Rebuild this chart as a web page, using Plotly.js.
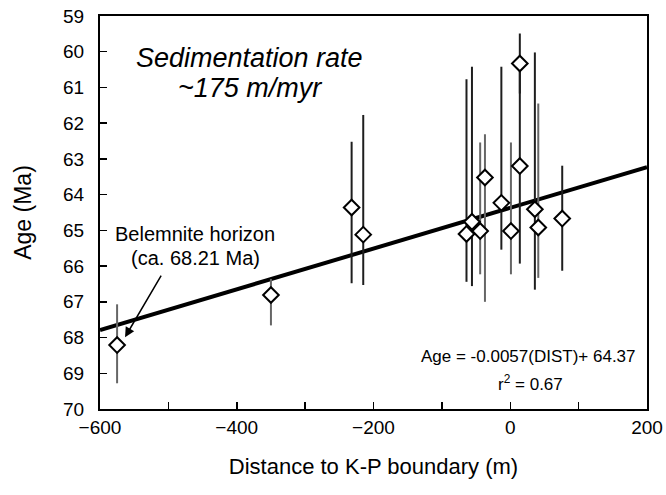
<!DOCTYPE html>
<html>
<head>
<meta charset="utf-8">
<script src="https://cdn.plot.ly/plotly-3.0.1.min.js"></script>
<style>
  html, body { margin: 0; padding: 0; background: #fff; }
  #chart { width: 666px; height: 495px; }
</style>
</head>
<body>
<div id="chart"></div>
<script>
// Distance to K-P boundary (m)
var dist   = [-575, -350, -232, -215, -64, -56, -44, -37, -13, 1, 14, 14, 36, 41, 76];
// Age (Ma)
var age    = [68.21, 66.81, 64.36, 65.12, 65.10, 64.76, 65.02, 63.52, 64.23, 65.02, 60.33, 63.20, 64.41, 64.92, 64.67];
// Error bar extents (younger end, older end)
var ageMin = [67.07, 66.36, 62.52, 61.77, 60.77, 60.42, 62.54, 62.31, 60.42, 62.54, 59.49, 60.47, 60.02, 61.45, 63.19];
var ageMax = [69.28, 67.66, 66.48, 66.53, 66.44, 66.56, 66.23, 67.00, 65.54, 66.23, 61.17, 65.93, 66.66, 66.33, 66.13];
// Bars drawn in grey in the reference
var greyBar = [1, 1, 0, 0, 0, 0, 1, 1, 0, 1, 0, 0, 0, 1, 0];
// Regression line end points
var fitX = [-600, 200];
var fitY = [67.79, 63.23];
// Ticks
var xTickVals = [-600, -400, -200, 0, 200];
var xMinorVals = [-500, -300, -100, 100];
var yTickVals = [59, 60, 61, 62, 63, 64, 65, 66, 67, 68, 69, 70];

var FONT = 'Liberation Sans, Arial, Helvetica, sans-serif';

function pick(arr, flag) {
  var out = [];
  for (var i = 0; i < arr.length; i++) if (greyBar[i] === flag) out.push(arr[i]);
  return out;
}
function errTrace(flag, color) {
  var a = pick(age, flag), lo = pick(ageMin, flag), hi = pick(ageMax, flag);
  var plus = [], minus = [];
  for (var i = 0; i < a.length; i++) { plus.push(hi[i] - a[i]); minus.push(a[i] - lo[i]); }
  return {
    x: pick(dist, flag), y: a, type: 'scatter', mode: 'markers',
    marker: {size: 1, color: 'rgba(0,0,0,0)'},
    error_y: {type: 'data', symmetric: false, array: plus, arrayminus: minus,
              color: color, thickness: 2, width: 0},
    hoverinfo: 'skip', showlegend: false
  };
}

var traces = [
  {x: fitX, y: fitY, type: 'scatter', mode: 'lines',
   line: {color: '#000', width: 4}, showlegend: false, hoverinfo: 'skip'},
  errTrace(0, '#1e1e1e'),
  errTrace(1, '#666666'),
  {x: dist, y: age, type: 'scatter', mode: 'markers',
   marker: {symbol: 'diamond', size: 12, color: '#fff', line: {color: '#000', width: 2}},
   showlegend: false}
];

var layout = {
  width: 666, height: 495,
  margin: {l: 100, r: 19, t: 16, b: 86},
  paper_bgcolor: '#fff', plot_bgcolor: '#fff',
  font: {family: FONT, color: '#000'},
  showlegend: false,
  xaxis: {
    range: [-600, 200], tickvals: xTickVals,
    ticks: 'inside', ticklen: 7, tickwidth: 1.5, tickcolor: '#000',
    minor: {tickvals: xMinorVals, ticks: 'inside', ticklen: 7, tickwidth: 1.5, tickcolor: '#000', showgrid: false},
    showline: true, linecolor: '#000', linewidth: 2, mirror: true,
    showgrid: false, zeroline: false,
    tickfont: {size: 19, family: FONT},
    title: {text: 'Distance to K-P boundary (m)', font: {size: 22, family: FONT}, standoff: 22}
  },
  yaxis: {
    range: [70, 59], tickvals: yTickVals,
    ticks: 'inside', ticklen: 7, tickwidth: 1.5, tickcolor: '#000',
    showline: true, linecolor: '#000', linewidth: 2, mirror: true,
    showgrid: false, zeroline: false,
    tickfont: {size: 19, family: FONT},
    ticklabelstandoff: 10,
    title: {text: 'Age (Ma)', font: {size: 23, family: FONT}, standoff: 25}
  },
  annotations: [
    {xref: 'x', yref: 'y', x: -381, y: 60.18, showarrow: false,
     text: '<i>Sedimentation rate</i>', font: {size: 27, family: FONT}},
    {xref: 'x', yref: 'y', x: -381, y: 61.02, showarrow: false,
     text: '<i>~175 m/myr</i>', font: {size: 27, family: FONT}},
    {xref: 'x', yref: 'y', x: -461, y: 65.10, showarrow: false,
     text: 'Belemnite horizon', font: {size: 20, family: FONT}},
    {xref: 'x', yref: 'y', x: -461, y: 65.77, showarrow: false,
     text: '(ca. 68.21 Ma)', font: {size: 20, family: FONT}},
    {xref: 'x', yref: 'y', x: -563.4, y: 67.99, text: '',
     showarrow: true, arrowhead: 2, arrowsize: 1.3, arrowwidth: 1.5, arrowcolor: '#000',
     ax: 37, ay: -63, standoff: 0},
    {xref: 'x', yref: 'y', x: 26, y: 68.52, showarrow: false,
     text: 'Age = -0.0057(DIST)+ 64.37', font: {size: 17, family: FONT}},
    {xref: 'x', yref: 'y', x: 29, y: 69.27, showarrow: false,
     text: 'r<sup>2</sup> = 0.67', font: {size: 17, family: FONT}}
  ]
};

Plotly.newPlot('chart', traces, layout, {displayModeBar: false, staticPlot: true});
</script>
</body>
</html>
